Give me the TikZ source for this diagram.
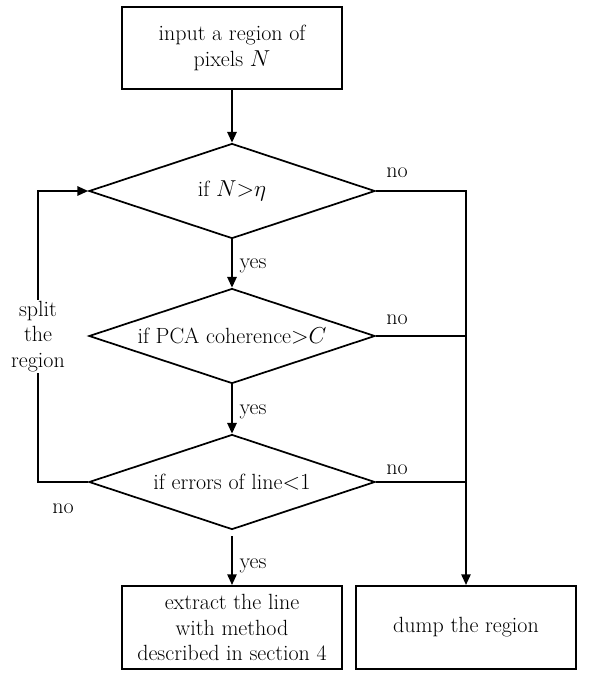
\documentclass[tikz,border=0pt]{standalone}
\usetikzlibrary{positioning}
\usetikzlibrary{shapes.geometric, arrows.meta}
\tikzstyle{process} = [rectangle, minimum width=165pt, minimum height=62pt, inner sep=2pt, align=center, draw=black, line width=1.3pt]
\tikzstyle{decision} = [diamond, aspect=3, minimum width=214.5pt, minimum height=71.25pt, inner sep=0pt, align=center, draw=black, line width=1.3pt]
\tikzstyle{arrow} = [line width=1.3pt, -{Triangle[length=8pt,width=7pt]}]
\tikzstyle{line} = [line width=1.3pt]
\tikzstyle{yeslabel} = [right, inner sep=5pt, yshift=-2pt]
\begin{document}
\begin{tikzpicture}[x=0.75pt, y=-0.75pt, font=\fontsize{16.5}{19}\selectfont]
\useasboundingbox (0,0) rectangle (601,679);
\node[process] (input) at (232,48) {input a region of\\ pixels $N$};
\node[decision] (dec1) at (232,191) {if $N{>}\eta$};
\node[decision] (dec2) at (232,336) {if PCA coherence${>}C$};
\node[decision] (dec3) at (232,482) {if errors of line${<}1$};
\node[process, minimum height=62.5pt] (extract) at (232,627.5) {extract the line\\ with method\\ described in section 4};
\node[process, minimum height=62.5pt] (dump) at (466,627.5) {dump the region};
\coordinate (r1) at (466,191);
\coordinate (r2) at (466,336);
\coordinate (r3) at (466,482);
\coordinate (l3) at (38,482);
\coordinate (l1) at (38,191);
% main flow
\draw[arrow] (input) -- (dec1);
\draw[arrow] (dec1) -- node[yeslabel] (yes1) {yes} (dec2);
\draw[arrow] (dec2) -- node[yeslabel] (yes2) {yes} (dec3);
\draw[arrow, shorten <=4.5pt] (dec3) -- node[yeslabel, pos=0.6] (yes3) {yes} (extract);
% no branches
\draw[arrow] (dec1) -- (r1) -- (dump);
\draw[line] (dec2) -- (r2);
\draw[line] (dec3) -- (r3);
\node (no1) at (397,173) {no};
\node (no2) at (397,320) {no};
\node (no3) at (397,470) {no};
% loop back
\draw[arrow] (dec3) -- (l3) -- node[fill=white, align=center, inner sep=1pt] (split) {split\\ the\\ region} (l1) -- (dec1);
\node (no4) at (63,509) {no};
\end{tikzpicture}
\end{document}
